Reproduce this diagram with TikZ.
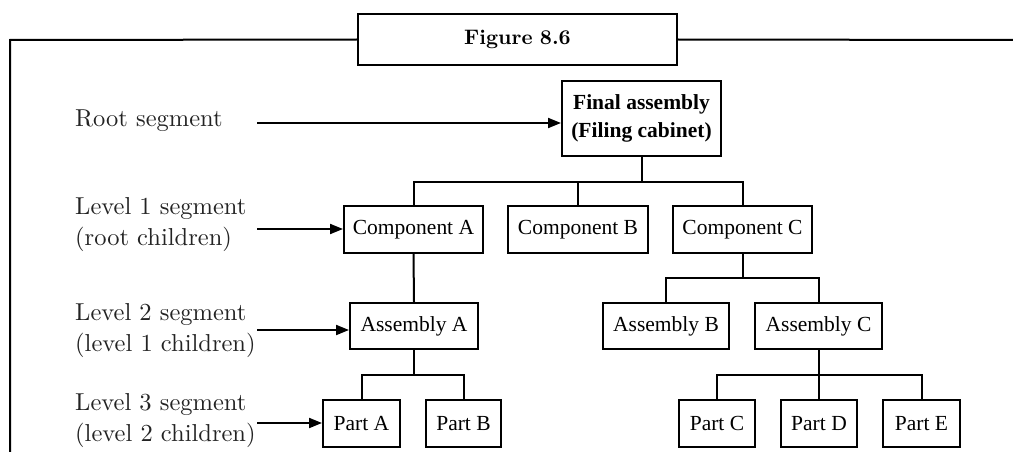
\documentclass[tikz,border=0pt]{standalone}
\usepackage{fontspec}
\newfontfamily\labfont{lmroman10-regular}[Extension=.otf]
\newfontfamily\titlefont{lmroman10-bold}[Extension=.otf]
\newfontfamily\boxfont{Liberation Serif}
\usetikzlibrary{arrows.meta}
\definecolor{lbl}{RGB}{35,35,35}
\begin{document}
\begin{tikzpicture}[x=1pt,y=-1pt,
  bx/.style={draw,line width=2pt,inner sep=0pt,align=center,font=\boxfont\fontsize{21.5}{27}\selectfont},
  conn/.style={line width=2pt},
  arr/.style={line width=2pt,-{Triangle[length=13pt,width=10pt]}},
  lab/.style={anchor=west,inner sep=0pt,align=left,text=lbl,font=\labfont\fontsize{24.5}{31}\selectfont}]
\useasboundingbox (0,0) rectangle (1013,452);
% title and frame
\node[bx,minimum width=319pt,minimum height=51pt,font=\titlefont\fontsize{21}{24}\selectfont] (fig) at (517.5,39.5) {Figure\hspace{0.35em}8.6};
\coordinate (fl) at (10,40);
\coordinate (fb) at (10,460);
\coordinate (fr) at (1020,40);
\draw[conn] (fig.west) -- (fl) -- (fb);
\draw[conn] (fig.east) -- (fr);
% boxes
\node[bx,minimum width=159pt,minimum height=75pt,font=\boxfont\bfseries\fontsize{21.5}{28}\selectfont] (final) at (641.5,118.5) {Final assembly\\(Filing cabinet)};
\node[bx,minimum width=139pt,minimum height=47pt] (compA) at (413.5,229.5) {Component A};
\node[bx,minimum width=140pt,minimum height=47pt] (compB) at (578,229.5) {Component B};
\node[bx,minimum width=139pt,minimum height=47pt] (compC) at (742.5,229.5) {Component C};
\node[bx,minimum width=128pt,minimum height=46pt] (asmA) at (414,326) {Assembly A};
\node[bx,minimum width=126pt,minimum height=46pt] (asmB) at (666,326) {Assembly B};
\node[bx,minimum width=127pt,minimum height=46pt] (asmC) at (818.5,326) {Assembly C};
\node[bx,minimum width=77pt,minimum height=47pt] (partA) at (361.5,423.5) {Part A};
\node[bx,minimum width=75pt,minimum height=47pt] (partB) at (463.5,423.5) {Part B};
\node[bx,minimum width=76pt,minimum height=47pt] (partC) at (717,423.5) {Part C};
\node[bx,minimum width=76pt,minimum height=47pt] (partD) at (819,423.5) {Part D};
\node[bx,minimum width=77pt,minimum height=47pt] (partE) at (921.5,423.5) {Part E};
% tree connectors
\coordinate (y1) at (0,182);
\coordinate (y2) at (0,278);
\coordinate (y3) at (0,375);
\draw[conn] (final.south) -- (final.south |- y1);
\draw[conn] (compA.north) -- (compA.north |- y1) -- (compC.north |- y1) -- (compC.north);
\draw[conn] (compB.north) -- (compB.north |- y1);
\draw[conn] (compA.south) -- (asmA.north);
\draw[conn] (compC.south) -- (compC.south |- y2);
\draw[conn] (asmB.north) -- (asmB.north |- y2) -- (asmC.north |- y2) -- (asmC.north);
\draw[conn] (asmA.south) -- (asmA.south |- y3);
\draw[conn] (partA.north) -- (partA.north |- y3) -- (partB.north |- y3) -- (partB.north);
\draw[conn] (asmC.south) -- (asmC.south |- y3);
\draw[conn] (partC.north) -- (partC.north |- y3) -- (partE.north |- y3) -- (partE.north);
\draw[conn] (partD.north) -- (partD.north |- y3);
% level labels
\node[lab] (l0) at (75,121) {Root segment};
\node[lab] (l1) at (75,225) {Level 1 segment\\(root children)};
\node[lab] (l2) at (75,331) {Level 2 segment\\(level 1 children)};
\node[lab] (l3) at (75,421) {Level 3 segment\\(level 2 children)};
\coordinate (a0) at (257,123);
\coordinate (a1) at (257,229);
\coordinate (a2) at (257,330);
\coordinate (a3) at (257,423);
\draw[arr] (a0) -- (final.west |- a0);
\draw[arr] (a1) -- (compA.west |- a1);
\draw[arr] (a2) -- (asmA.west |- a2);
\draw[arr] (a3) -- (partA.west |- a3);
\end{tikzpicture}
\end{document}
